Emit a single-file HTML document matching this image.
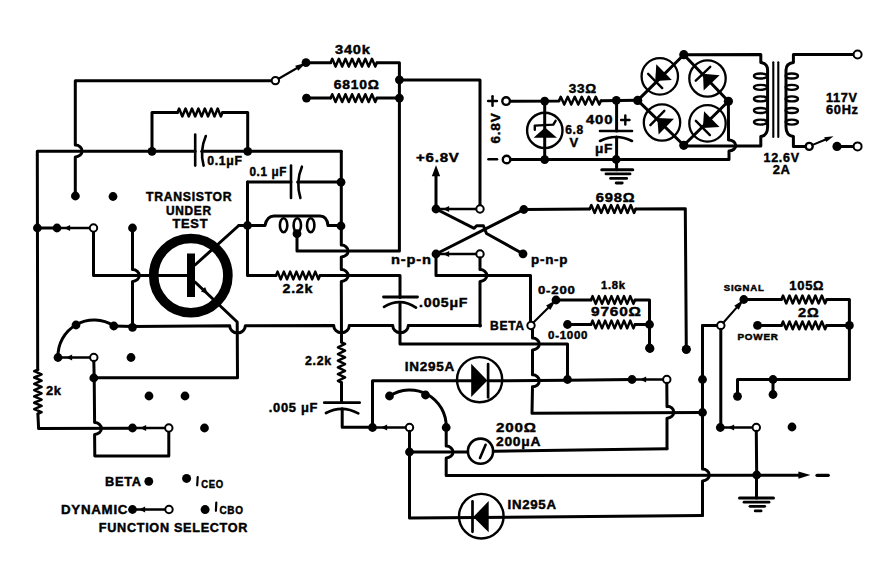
<!DOCTYPE html>
<html><head><meta charset="utf-8"><style>
html,body{margin:0;padding:0;background:#fff;}
body{width:880px;height:568px;overflow:hidden;}
svg{display:block;}
text{letter-spacing:0.7px;stroke:#000;stroke-width:0.45;stroke-linejoin:miter;font-family:"Liberation Sans",sans-serif;font-weight:bold;fill:#000;}
</style></head><body>
<svg width="880" height="568" viewBox="0 0 880 568" stroke="#000" stroke-linecap="round" stroke-linejoin="round">
<rect width="880" height="568" fill="#fff" stroke="none"/>
<path d="M271.8,80.8 L75.3,80.8 L75.3,145 A6.8,6 0 0 1 75.3,157 L75.3,196" stroke-width="3" fill="none"/>
<circle cx="275.4" cy="80.6" r="3.7" fill="#fff" stroke-width="2"/>
<path d="M278.6,78.74 L297.12,67.98" stroke-width="2.1" fill="none"/>
<path d="M298.2,70.82 L295.18,65.63 L306.2,62.7 Z" fill="#000" stroke="none"/>
<circle cx="306" cy="62.7" r="4.4" fill="#000" stroke="none"/>
<path d="M330.6,62.7 L332.25,58.8 L335.56,66.6 L338.87,58.8 L342.18,66.6 L345.48,58.8 L348.79,66.6 L352.1,58.8 L355.4,66.6 L358.71,58.8 L362.02,66.6 L365.32,58.8 L368.63,66.6 L371.94,58.8 L375.25,66.6 L376.9,62.7" stroke-width="2.5" fill="none"/>
<path d="M306,62.7 L330.6,62.7 L330.6,62.7 M376.9,62.7 L399.4,62.7 L399.4,251 L297,251 L297,233.7" stroke-width="3" fill="none"/>
<circle cx="399.4" cy="79.8" r="4.4" fill="#000" stroke="none"/>
<circle cx="399.4" cy="98.1" r="4.4" fill="#000" stroke="none"/>
<path d="M399.4,80 L480,80 L480,205.3" stroke-width="3" fill="none"/>
<circle cx="306.5" cy="98.1" r="4.4" fill="#000" stroke="none"/>
<path d="M330.6,98.1 L332.25,94.2 L335.56,102 L338.87,94.2 L342.18,102 L345.48,94.2 L348.79,102 L352.1,94.2 L355.4,102 L358.71,94.2 L362.02,102 L365.32,94.2 L368.63,102 L371.94,94.2 L375.25,102 L376.9,98.1" stroke-width="2.5" fill="none"/>
<path d="M306.5,98.1 L330.6,98.1 L330.6,98.1 M376.9,98.1 L399.4,98.1" stroke-width="3" fill="none"/>
<text x="352.85" y="54.27" font-size="13" text-anchor="middle" textLength="35.7" lengthAdjust="spacingAndGlyphs">340k</text>
<text x="356.65" y="89.07" font-size="13" text-anchor="middle" textLength="45.7" lengthAdjust="spacingAndGlyphs">6810&#937;</text>
<path d="M177.5,112.5 L179.11,108.6 L182.32,116.4 L185.54,108.6 L188.75,116.4 L191.96,108.6 L195.18,116.4 L198.39,108.6 L201.61,116.4 L204.82,108.6 L208.04,116.4 L211.25,108.6 L214.46,116.4 L217.68,108.6 L220.89,116.4 L222.5,112.5" stroke-width="2.5" fill="none"/>
<path d="M152,151 L152,112.5 L177.5,112.5 L177.5,112.5 M222.5,112.5 L247.7,112.5 L247.7,151" stroke-width="3" fill="none"/>
<path d="M37.9,369.6 L34.2,371.18 L41.6,374.34 L34.2,377.49 L41.6,380.65 L34.2,383.81 L41.6,386.96 L34.2,390.12 L41.6,393.28 L34.2,396.44 L41.6,399.59 L34.2,402.75 L41.6,405.91 L34.2,409.06 L41.6,412.22 L37.9,413.8" stroke-width="2.5" fill="none"/>
<path d="M195.2,151.2 L37.3,151.2 L37.7,369.6 L37.9,369.6 M37.9,413.8 L38.6,428.6 L132.5,428.3" stroke-width="3" fill="none"/>
<path d="M195.2,134.6 L195.2,165.6" stroke-width="2.6" fill="none"/>
<path d="M205.8,136 Q199.5,151 203.6,165.6" stroke-width="2.6" fill="none"/>
<path d="M201.8,151.3 L341,151.3 L341,151.3" stroke-width="3" fill="none"/>
<circle cx="152" cy="151.3" r="4.4" fill="#000" stroke="none"/>
<circle cx="247.7" cy="151.3" r="4.4" fill="#000" stroke="none"/>
<text x="225" y="165.07" font-size="13" text-anchor="middle" textLength="35.4" lengthAdjust="spacingAndGlyphs">0.1&#956;F</text>
<path d="M341.5,342.3 L345.1,343.98 L337.9,347.32 L345.1,350.68 L337.9,354.03 L345.1,357.38 L337.9,360.73 L345.1,364.07 L337.9,367.43 L345.1,370.77 L337.9,374.12 L345.1,377.48 L337.9,380.82 L341.5,382.5" stroke-width="2.5" fill="none"/>
<path d="M341.3,151.3 L341.3,245 A6.8,6 0 0 1 341.3,257 L341.3,269.5 A6.8,6 0 0 1 341.3,281.5 L341.5,342.3 L341.5,342.3 M341.5,382.5 L341.5,402.5" stroke-width="3" fill="none"/>
<path d="M247.5,181.9 L291,181.9" stroke-width="3" fill="none"/>
<path d="M291,165.6 L291,198" stroke-width="2.6" fill="none"/>
<path d="M301.9,166.7 Q295.5,182 300.4,198" stroke-width="2.6" fill="none"/>
<path d="M297.6,181.9 L341,181.9" stroke-width="3" fill="none"/>
<circle cx="341" cy="182.2" r="4.4" fill="#000" stroke="none"/>
<text x="268.25" y="176.47" font-size="13" text-anchor="middle" textLength="37.7" lengthAdjust="spacingAndGlyphs">0.1 &#956;F</text>
<path d="M276,275.5 L277.57,271.6 L280.71,279.4 L283.86,271.6 L287,279.4 L290.14,271.6 L293.29,279.4 L296.43,271.6 L299.57,279.4 L302.71,271.6 L305.86,279.4 L309,271.6 L312.14,279.4 L315.29,271.6 L318.43,279.4 L320,275.5" stroke-width="2.5" fill="none"/>
<path d="M247.5,181.9 L247.5,275.5 L276,275.5 L276,275.5 M320,275.5 L400,275.5 L400,297.6" stroke-width="3" fill="none"/>
<text x="297.85" y="293.27" font-size="13" text-anchor="middle" textLength="30.7" lengthAdjust="spacingAndGlyphs">2.2k</text>
<circle cx="247.5" cy="225.5" r="4.4" fill="#000" stroke="none"/>
<path d="M238.8,225.5 L265,225.5 Q267,216 274,216 L320,216 Q327,216 328,225.5 L341,225.5" stroke-width="3" fill="none"/>
<ellipse cx="283.6" cy="225.2" rx="3.7" ry="7.0" fill="none" stroke-width="2.6"/>
<ellipse cx="297.3" cy="225.2" rx="3.7" ry="7.0" fill="none" stroke-width="2.6"/>
<ellipse cx="310.7" cy="225.2" rx="3.7" ry="7.0" fill="none" stroke-width="2.6"/>
<circle cx="341" cy="226" r="4.4" fill="#000" stroke="none"/>
<circle cx="297" cy="233.7" r="4.4" fill="#000" stroke="none"/>
<path d="M247.5,225.5 L238.8,225.5 L195,265" stroke-width="3" fill="none"/>
<circle cx="190.8" cy="275.6" r="37.1" fill="none" stroke-width="9.6"/>
<rect x="187" y="253.5" width="8" height="43.5" fill="#000" stroke="none"/>
<path d="M93.5,228 L93.5,275.5 L187,275.5" stroke-width="3" fill="none"/>
<path d="M195,282 L237.2,322 L237.5,377.8 L93.8,377.8" stroke-width="3" fill="none"/>
<path d="M208,294 L200.94,291.43 L205.09,287.08 Z" fill="#000" stroke="none"/>
<path d="M132.5,228 L132.5,269.5 A6.8,6 0 0 1 132.5,281.5 L132.5,327.5" stroke-width="3" fill="none"/>
<text x="189.2" y="200.73" font-size="12" text-anchor="middle" textLength="86.4" lengthAdjust="spacingAndGlyphs">TRANSISTOR</text>
<text x="188.85" y="214.63" font-size="12" text-anchor="middle" textLength="45.7" lengthAdjust="spacingAndGlyphs">UNDER</text>
<text x="190.35" y="227.93" font-size="12" text-anchor="middle" textLength="35.7" lengthAdjust="spacingAndGlyphs">TEST</text>
<circle cx="37.4" cy="228" r="4.4" fill="#000" stroke="none"/>
<path d="M37.4,228 L57,228" stroke-width="3" fill="none"/>
<path d="M57,228 L89.8,228" stroke-width="2.3" fill="none"/>
<circle cx="57" cy="228" r="4.4" fill="#000" stroke="none"/>
<path d="M64,228 L70.15,224.93 L70.15,231.07 Z" fill="#000" stroke="none"/>
<circle cx="93.5" cy="228" r="3.7" fill="#fff" stroke-width="2"/>
<circle cx="75.4" cy="196" r="4.4" fill="#000" stroke="none"/>
<circle cx="113" cy="196.5" r="4.4" fill="#000" stroke="none"/>
<circle cx="132.5" cy="228" r="4.4" fill="#000" stroke="none"/>
<path d="M113.8,326 L132.5,326.5 L229.7,325.8 A7.8,7.2 0 0 0 245.3,325.8 L333.7,325.5 A7.8,7.2 0 0 0 349.3,325.5 L392.7,325.5 A7.8,7.2 0 0 0 408.3,325.5 L480.5,325.5" stroke-width="3" fill="none"/>
<circle cx="113.8" cy="326" r="4.4" fill="#000" stroke="none"/>
<circle cx="132.5" cy="327.3" r="4.4" fill="#000" stroke="none"/>
<path d="M58,357.5 A36,36 0 0 1 113.8,326" stroke-width="3" fill="none"/>
<circle cx="58" cy="357.5" r="4.4" fill="#000" stroke="none"/>
<circle cx="76" cy="325" r="4.4" fill="#000" stroke="none"/>
<path d="M58,357.5 L90,357.5" stroke-width="2.3" fill="none"/>
<path d="M66,357.5 L72.15,354.43 L72.15,360.57 Z" fill="#000" stroke="none"/>
<circle cx="93.8" cy="357.5" r="3.7" fill="#fff" stroke-width="2"/>
<circle cx="131" cy="357.5" r="4.4" fill="#000" stroke="none"/>
<path d="M93.8,361.2 L94.2,378 L94.6,422.5 A6.8,6 0 0 1 94.6,434.5 L94.8,456 L168.8,456 L168.8,431.7" stroke-width="3" fill="none"/>
<circle cx="93.8" cy="378" r="4.4" fill="#000" stroke="none"/>
<text x="53.85" y="395.47" font-size="13" text-anchor="middle" textLength="15.7" lengthAdjust="spacingAndGlyphs">2k</text>
<circle cx="132.5" cy="428" r="4.4" fill="#000" stroke="none"/>
<path d="M132.5,428 L165,428" stroke-width="2.3" fill="none"/>
<path d="M140,428 L146.15,424.93 L146.15,431.07 Z" fill="#000" stroke="none"/>
<circle cx="168.8" cy="428" r="3.7" fill="#fff" stroke-width="2"/>
<circle cx="149" cy="396" r="4.4" fill="#000" stroke="none"/>
<circle cx="185" cy="396" r="4.4" fill="#000" stroke="none"/>
<circle cx="204.5" cy="428" r="4.4" fill="#000" stroke="none"/>
<text x="318.35" y="365.47" font-size="13" text-anchor="middle" textLength="26.7" lengthAdjust="spacingAndGlyphs">2.2k</text>
<path d="M324.3,402.7 L359.6,402.7" stroke-width="2.8" fill="none"/>
<path d="M326,413 Q342,404.5 358.3,413.4" stroke-width="2.7" fill="none"/>
<path d="M342.2,408.8 L342.2,427.3 L372.5,427.3" stroke-width="3" fill="none"/>
<text x="293.5" y="411.97" font-size="13" text-anchor="middle" textLength="49.4" lengthAdjust="spacingAndGlyphs">.005 &#956;F</text>
<path d="M456.5,380.8 L372.5,380.8 L372.5,427.5" stroke-width="3" fill="none"/>
<path d="M372.5,427.5 L406,427.5" stroke-width="2.3" fill="none"/>
<circle cx="372.5" cy="427.5" r="4.4" fill="#000" stroke="none"/>
<path d="M381,427.5 L387.15,424.43 L387.15,430.57 Z" fill="#000" stroke="none"/>
<circle cx="409.5" cy="427.5" r="3.7" fill="#fff" stroke-width="2"/>
<path d="M389.5,396 A36.5,36.5 0 0 1 446.2,427.5" stroke-width="3" fill="none"/>
<circle cx="389.5" cy="396" r="4.4" fill="#000" stroke="none"/>
<circle cx="425.5" cy="395" r="4.4" fill="#000" stroke="none"/>
<circle cx="446.2" cy="427.5" r="4.4" fill="#000" stroke="none"/>
<path d="M409.5,431.2 L409.5,518 L702.5,515.5" stroke-width="3" fill="none"/>
<circle cx="409.5" cy="452" r="4.4" fill="#000" stroke="none"/>
<path d="M409.5,452 L467,452" stroke-width="3" fill="none"/>
<path d="M494,451.2 L667,448.8" stroke-width="3" fill="none"/>
<path d="M446.2,427.5 L446.2,446 A6.8,6 0 0 1 446.2,458 L446.2,475.6 L801,475.2" stroke-width="3" fill="none"/>
<path d="M383.5,297 L417.5,297" stroke-width="2.8" fill="none"/>
<path d="M384,306.8 Q400.5,297.3 416,307.6" stroke-width="2.7" fill="none"/>
<path d="M400,304 L400,344 L567.5,344 L567.5,379.5" stroke-width="3" fill="none"/>
<text x="443.6" y="306.97" font-size="13" text-anchor="middle" textLength="49.2" lengthAdjust="spacingAndGlyphs">.005&#956;F</text>
<text x="437.85" y="161.97" font-size="13" text-anchor="middle" textLength="43.7" lengthAdjust="spacingAndGlyphs">+6.8V</text>
<path d="M436,209 L436,172" stroke-width="3" fill="none"/>
<path d="M436,165.2 L440.2,176.2 L431.8,176.2 Z" fill="#000" stroke="none"/>
<circle cx="436" cy="209" r="4.4" fill="#000" stroke="none"/>
<path d="M436,209 L476.3,209" stroke-width="2.3" fill="none"/>
<path d="M443,209 L449.15,205.93 L449.15,212.07 Z" fill="#000" stroke="none"/>
<circle cx="480" cy="209" r="3.7" fill="#fff" stroke-width="2"/>
<circle cx="523.8" cy="209.5" r="4.4" fill="#000" stroke="none"/>
<path d="M523.8,209.5 L436,254" stroke-width="3" fill="none"/>
<path d="M436,209 L474.2,228.3 L476.6,225.8 L483.4,225.8 L486.5,233.5 L523,253.8" stroke-width="3" fill="none"/>
<circle cx="523" cy="253.8" r="4.4" fill="#000" stroke="none"/>
<circle cx="436" cy="254" r="4.4" fill="#000" stroke="none"/>
<path d="M436,254 L476.3,254" stroke-width="2.3" fill="none"/>
<path d="M443,254 L449.15,250.93 L449.15,257.07 Z" fill="#000" stroke="none"/>
<circle cx="480" cy="254" r="3.7" fill="#fff" stroke-width="2"/>
<text x="411.35" y="264.47" font-size="13" text-anchor="middle" textLength="40.7" lengthAdjust="spacingAndGlyphs">n-p-n</text>
<text x="549.6" y="263.97" font-size="13" text-anchor="middle" textLength="37.2" lengthAdjust="spacingAndGlyphs">p-n-p</text>
<path d="M480,257.7 L480,269.5 A6.8,6 0 0 1 480,281.5 L480,326" stroke-width="3" fill="none"/>
<path d="M436,254 L436,275.5 L530.5,275.5 L530.5,321.8" stroke-width="3" fill="none"/>
<path d="M589.7,209 L591.34,205.1 L594.63,212.9 L597.91,205.1 L601.2,212.9 L604.49,205.1 L607.77,212.9 L611.06,205.1 L614.34,212.9 L617.63,205.1 L620.91,212.9 L624.2,205.1 L627.49,212.9 L630.77,205.1 L634.06,212.9 L635.7,209" stroke-width="2.5" fill="none"/>
<path d="M523.8,209.5 L589.7,209.1 L589.7,209 M635.7,209 L685.3,208.7 L686.3,349" stroke-width="3" fill="none"/>
<circle cx="686.3" cy="349.3" r="4.4" fill="#000" stroke="none"/>
<text x="615.6" y="201.77" font-size="13" text-anchor="middle" textLength="39.6" lengthAdjust="spacingAndGlyphs">698&#937;</text>
<circle cx="531" cy="325.5" r="3.7" fill="#fff" stroke-width="2"/>
<text x="507.35" y="329.97" font-size="13" text-anchor="middle" textLength="34.7" lengthAdjust="spacingAndGlyphs">BETA</text>
<path d="M533.43,322.39 L548.55,307.39" stroke-width="2.1" fill="none"/>
<path d="M550.3,309.88 L546.08,305.62 L556,300 Z" fill="#000" stroke="none"/>
<circle cx="556" cy="300" r="4.4" fill="#000" stroke="none"/>
<text x="556.85" y="293.78" font-size="11" text-anchor="middle" textLength="37.7" lengthAdjust="spacingAndGlyphs">0-200</text>
<path d="M591,300 L592.57,296.1 L595.71,303.9 L598.86,296.1 L602,303.9 L605.14,296.1 L608.29,303.9 L611.43,296.1 L614.57,303.9 L617.71,296.1 L620.86,303.9 L624,296.1 L627.14,303.9 L630.29,296.1 L633.43,303.9 L635,300" stroke-width="2.5" fill="none"/>
<path d="M556,300 L591,300 L591,300 M635,300 L649.5,300 L649.5,348" stroke-width="3" fill="none"/>
<circle cx="567.5" cy="324.5" r="4.4" fill="#000" stroke="none"/>
<path d="M591,324.5 L592.57,320.6 L595.71,328.4 L598.86,320.6 L602,328.4 L605.14,320.6 L608.29,328.4 L611.43,320.6 L614.57,328.4 L617.71,320.6 L620.86,328.4 L624,320.6 L627.14,328.4 L630.29,320.6 L633.43,328.4 L635,324.5" stroke-width="2.5" fill="none"/>
<path d="M567.5,324.5 L591,324.5 L591,324.5 M635,324.5 L649.5,324.5" stroke-width="3" fill="none"/>
<circle cx="649.5" cy="324.5" r="4.4" fill="#000" stroke="none"/>
<circle cx="649.5" cy="348" r="4.4" fill="#000" stroke="none"/>
<text x="613.35" y="288.78" font-size="11" text-anchor="middle" textLength="24.7" lengthAdjust="spacingAndGlyphs">1.8k</text>
<text x="616.35" y="316.47" font-size="13" text-anchor="middle" textLength="50.7" lengthAdjust="spacingAndGlyphs">9760&#937;</text>
<text x="568.1" y="338.78" font-size="11" text-anchor="middle" textLength="40.2" lengthAdjust="spacingAndGlyphs">0-1000</text>
<path d="M532.5,329.2 L532.5,338 A6.8,6 0 0 1 532.5,350 L532.5,374.8 A6.8,6 0 0 1 532.5,386.8 L532,413.2 L702.5,412.6" stroke-width="3" fill="none"/>
<circle cx="479.6" cy="379.7" r="22.6" fill="none" stroke-width="2.4"/>
<path d="M456.5,380.8 L472,380.8" stroke-width="3" fill="none"/>
<path d="M471.2,363.8 L471.2,397 L487.4,380.5 Z" fill="#000" stroke="none"/>
<path d="M488.1,364 L488.1,397.3" stroke-width="2.7" fill="none"/>
<path d="M488,380.8 L567.5,380.2 L632,379.5" stroke-width="3" fill="none"/>
<path d="M632,379.5 L663,379.5" stroke-width="2.3" fill="none"/>
<circle cx="567.5" cy="379.5" r="4.4" fill="#000" stroke="none"/>
<circle cx="632" cy="379.5" r="4.4" fill="#000" stroke="none"/>
<path d="M640,379.5 L646.15,376.43 L646.15,382.57 Z" fill="#000" stroke="none"/>
<circle cx="666.8" cy="379.5" r="3.7" fill="#fff" stroke-width="2"/>
<text x="429.85" y="371.47" font-size="13" text-anchor="middle" textLength="50.1" lengthAdjust="spacingAndGlyphs">IN295A</text>
<circle cx="480.5" cy="451.2" r="12.6" fill="none" stroke-width="2.6"/>
<path d="M480,458 L485.6,444.8" stroke-width="2.6" fill="none"/>
<text x="516.35" y="432.47" font-size="13" text-anchor="middle" textLength="40.7" lengthAdjust="spacingAndGlyphs">200&#937;</text>
<text x="518.6" y="445.77" font-size="13" text-anchor="middle" textLength="45.2" lengthAdjust="spacingAndGlyphs">200&#956;A</text>
<circle cx="481.3" cy="516.2" r="22.3" fill="none" stroke-width="2.4"/>
<path d="M488.7,500.9 L488.7,532.3 L473.3,517.1 Z" fill="#000" stroke="none"/>
<path d="M472.5,501.4 L472.5,531.8" stroke-width="2.7" fill="none"/>
<text x="532.1" y="509.47" font-size="13" text-anchor="middle" textLength="49.2" lengthAdjust="spacingAndGlyphs">IN295A</text>
<circle cx="650" cy="348.5" r="4.4" fill="#000" stroke="none"/>
<circle cx="686.3" cy="349.3" r="4.4" fill="#000" stroke="none"/>
<path d="M666.8,383.2 L667,406.8 L667,406.2 A6.8,6 0 0 1 667,418.2 L667,448.8" stroke-width="3" fill="none"/>
<path d="M702.5,325.5 L702.5,412.5 L702.5,469 A6.8,6 0 0 1 702.5,481 L702.5,515.5" stroke-width="3" fill="none"/>
<circle cx="702.5" cy="379.5" r="4.4" fill="#000" stroke="none"/>
<circle cx="702.5" cy="412.5" r="4.4" fill="#000" stroke="none"/>
<path d="M702.5,325.5 L717,325.5" stroke-width="3" fill="none"/>
<circle cx="720.8" cy="325.5" r="3.7" fill="#fff" stroke-width="2"/>
<path d="M723.25,322.73 L736.84,307.36" stroke-width="2.1" fill="none"/>
<path d="M738.76,309.73 L734.26,305.75 L743.8,299.5 Z" fill="#000" stroke="none"/>
<circle cx="743.8" cy="299.5" r="4.4" fill="#000" stroke="none"/>
<path d="M781.4,299.5 L783.02,295.6 L786.25,303.4 L789.49,295.6 L792.73,303.4 L795.96,295.6 L799.2,303.4 L802.43,295.6 L805.67,303.4 L808.9,295.6 L812.14,303.4 L815.38,295.6 L818.61,303.4 L821.85,295.6 L825.08,303.4 L826.7,299.5" stroke-width="2.5" fill="none"/>
<path d="M743.8,299.5 L781.4,299.5 L781.4,299.5 M826.7,299.5 L849.4,299.5 L849.4,379.5 L737.5,379.5 L737.5,396.3" stroke-width="3" fill="none"/>
<circle cx="757.5" cy="325.4" r="4.4" fill="#000" stroke="none"/>
<path d="M781.4,325.4 L783.02,321.5 L786.25,329.3 L789.49,321.5 L792.73,329.3 L795.96,321.5 L799.2,329.3 L802.43,321.5 L805.67,329.3 L808.9,321.5 L812.14,329.3 L815.38,321.5 L818.61,329.3 L821.85,321.5 L825.08,329.3 L826.7,325.4" stroke-width="2.5" fill="none"/>
<path d="M757.5,325.4 L781.4,325.4 L781.4,325.4 M826.7,325.4 L849.4,325.4" stroke-width="3" fill="none"/>
<circle cx="849.4" cy="325.4" r="4.4" fill="#000" stroke="none"/>
<circle cx="773" cy="379.5" r="4.4" fill="#000" stroke="none"/>
<path d="M773,379.5 L773,394.5" stroke-width="3" fill="none"/>
<circle cx="737.5" cy="396.3" r="4.4" fill="#000" stroke="none"/>
<circle cx="773" cy="394.5" r="4.4" fill="#000" stroke="none"/>
<text x="744.15" y="290.6" font-size="9" text-anchor="middle" textLength="40.7" lengthAdjust="spacingAndGlyphs">SIGNAL</text>
<text x="806.75" y="290.47" font-size="13" text-anchor="middle" textLength="34.9" lengthAdjust="spacingAndGlyphs">105&#937;</text>
<text x="808.7" y="316.67" font-size="13" text-anchor="middle" textLength="21.4" lengthAdjust="spacingAndGlyphs">2&#937;</text>
<text x="758.1" y="340.1" font-size="9" text-anchor="middle" textLength="41.2" lengthAdjust="spacingAndGlyphs">POWER</text>
<path d="M720.8,329.2 L720.8,427.5" stroke-width="3" fill="none"/>
<path d="M720.3,427.5 L752.6,427.5" stroke-width="2.3" fill="none"/>
<circle cx="720.3" cy="427.5" r="4.4" fill="#000" stroke="none"/>
<path d="M728,427.5 L734.15,424.43 L734.15,430.57 Z" fill="#000" stroke="none"/>
<circle cx="756.3" cy="427.5" r="3.7" fill="#fff" stroke-width="2"/>
<circle cx="792" cy="427" r="4.4" fill="#000" stroke="none"/>
<path d="M756.3,431.2 L756.7,475" stroke-width="3" fill="none"/>
<circle cx="756.7" cy="475" r="4.4" fill="#000" stroke="none"/>
<path d="M810.4,475.1 L798.4,478.8 L798.4,471.4 Z" fill="#000" stroke="none"/>
<path d="M817,475.3 L828.3,475.3" stroke-width="3.2" fill="none"/>
<path d="M756.5,475 L756.5,498" stroke-width="3" fill="none"/>
<path d="M739.5,498.1 L773.5,498.1" stroke-width="3" fill="none"/>
<path d="M744,502.2 L769,502.2" stroke-width="2.8" fill="none"/>
<path d="M750,506.3 L764.7,506.3" stroke-width="2.8" fill="none"/>
<path d="M755.2,510.9 L761.1,510.9" stroke-width="2.8" fill="none"/>
<text x="123.35" y="485.77" font-size="13" text-anchor="middle" textLength="36.7" lengthAdjust="spacingAndGlyphs">BETA</text>
<circle cx="148.8" cy="481.3" r="4.4" fill="#000" stroke="none"/>
<circle cx="186.6" cy="478.4" r="4.5" fill="#000" stroke="none"/>
<path d="M197.7,477 L197.2,485.3" stroke-width="2.2" fill="none"/>
<text x="212.55" y="487.91" font-size="10.5" text-anchor="middle" textLength="22.5" lengthAdjust="spacingAndGlyphs">CEO</text>
<text x="94.6" y="513.97" font-size="13" text-anchor="middle" textLength="67.2" lengthAdjust="spacingAndGlyphs">DYNAMIC</text>
<circle cx="132.5" cy="509.5" r="4.4" fill="#000" stroke="none"/>
<path d="M132.5,509.5 L165.3,509.5" stroke-width="2.3" fill="none"/>
<path d="M139,509.5 L145.15,506.43 L145.15,512.58 Z" fill="#000" stroke="none"/>
<circle cx="169" cy="509.5" r="3.7" fill="#fff" stroke-width="2"/>
<circle cx="205.1" cy="509.6" r="4.5" fill="#000" stroke="none"/>
<path d="M216.3,502.5 L215.9,510.8" stroke-width="2.2" fill="none"/>
<text x="231.5" y="513.51" font-size="10.5" text-anchor="middle" textLength="24.2" lengthAdjust="spacingAndGlyphs">CBO</text>
<text x="173.5" y="531.97" font-size="13" text-anchor="middle" textLength="149.4" lengthAdjust="spacingAndGlyphs">FUNCTION SELECTOR</text>
<path d="M488.1,101 L496.9,101" stroke-width="2.5" fill="none"/>
<path d="M492.5,96.2 L492.5,105.8" stroke-width="2.5" fill="none"/>
<path d="M488.5,159.2 L497,159.2" stroke-width="2.6" fill="none"/>
<text transform="translate(495.2,128) rotate(-90)" x="0" y="4.64" font-size="13.5" text-anchor="middle" textLength="31" lengthAdjust="spacingAndGlyphs">6.8V</text>
<circle cx="506.1" cy="101.1" r="3.8" fill="#fff" stroke-width="2.4"/>
<circle cx="506.6" cy="159.5" r="3.8" fill="#fff" stroke-width="2.4"/>
<path d="M559,100.7 L560.75,96.8 L564.25,104.6 L567.75,96.8 L571.25,104.6 L574.75,96.8 L578.25,104.6 L581.75,96.8 L585.25,104.6 L588.75,96.8 L592.25,104.6 L595.75,96.8 L599.25,104.6 L601,100.7" stroke-width="2.5" fill="none"/>
<path d="M510.6,101.2 L559,101 L559,100.7 M601,100.7 L637.7,100.3" stroke-width="3" fill="none"/>
<circle cx="544.7" cy="101.1" r="4.4" fill="#000" stroke="none"/>
<circle cx="616.3" cy="100.3" r="4.4" fill="#000" stroke="none"/>
<text x="582.9" y="93.27" font-size="13" text-anchor="middle" textLength="28.2" lengthAdjust="spacingAndGlyphs">33&#937;</text>
<path d="M510.8,159.6 L729,159.6 L729,151 A7,5.5 0 0 0 728.5,140 L728.4,101.5" stroke-width="3" fill="none"/>
<circle cx="544.7" cy="159.6" r="4.4" fill="#000" stroke="none"/>
<circle cx="616.2" cy="159.5" r="4.4" fill="#000" stroke="none"/>
<circle cx="544.8" cy="130.4" r="17.7" fill="none" stroke-width="2.4"/>
<path d="M544.7,101.1 L544.7,159.5" stroke-width="3" fill="none"/>
<path d="M533.6,137.8 L557,137.8 L545,127.6 Z" fill="#000" stroke="none"/>
<path d="M534.8,129.8 L534.8,125.6 L553.3,124.6 L555.6,120.8" stroke-width="2.4" fill="none"/>
<text x="574.6" y="134.47" font-size="13" text-anchor="middle" textLength="18.6" lengthAdjust="spacingAndGlyphs">6.8</text>
<text x="574.3" y="147.07" font-size="13" text-anchor="middle">V</text>
<path d="M616.6,100.6 L616.6,131" stroke-width="3" fill="none"/>
<path d="M600,131 L632,131" stroke-width="2.6" fill="none"/>
<path d="M600,141 Q616,133 632,141" stroke-width="2.6" fill="none"/>
<path d="M616.6,137 L616.6,169.7" stroke-width="3" fill="none"/>
<text x="599.6" y="124.47" font-size="13" text-anchor="middle" textLength="27.2" lengthAdjust="spacingAndGlyphs">400</text>
<path d="M621.1,120 L629.5,120" stroke-width="2.4" fill="none"/>
<path d="M625.3,115.4 L625.3,124.6" stroke-width="2.4" fill="none"/>
<text x="604.1" y="153.27" font-size="13" text-anchor="middle" textLength="18.2" lengthAdjust="spacingAndGlyphs">&#956;F</text>
<path d="M601.8,169.7 L632.7,169.7" stroke-width="3.1" fill="none"/>
<path d="M606,173.9 L630,173.9" stroke-width="2.9" fill="none"/>
<path d="M610.6,178.4 L626.6,178.4" stroke-width="2.9" fill="none"/>
<path d="M616.2,183 L622.2,183" stroke-width="2.9" fill="none"/>
<path d="M637.7,100.4 L683.8,54.7 L728.4,101.3 L683.8,145.3 Z" stroke-width="3" fill="none"/>
<circle cx="637.7" cy="100.4" r="4.6" fill="#000" stroke="none"/>
<circle cx="683.8" cy="54.7" r="4.6" fill="#000" stroke="none"/>
<circle cx="728.4" cy="101.3" r="4.6" fill="#000" stroke="none"/>
<circle cx="683.8" cy="145.3" r="4.6" fill="#000" stroke="none"/>
<circle cx="659.8" cy="76.4" r="18.2" fill="none" stroke-width="2.3"/>
<path d="M656.32,64.36 L671.81,79.99 L655.18,80.98 Z" fill="#000" stroke="none"/>
<path d="M648.14,73.87 L662.22,88.08" stroke-width="2.4" fill="none"/>
<circle cx="662" cy="122.5" r="18.2" fill="none" stroke-width="2.3"/>
<path d="M673.97,118.81 L658.62,134.57 L657.34,117.96 Z" fill="#000" stroke="none"/>
<path d="M664.32,110.8 L650.37,125.13" stroke-width="2.4" fill="none"/>
<circle cx="707.5" cy="78.5" r="18.2" fill="none" stroke-width="2.3"/>
<path d="M719.6,75.23 L703.7,90.44 L703.01,73.8 Z" fill="#000" stroke="none"/>
<path d="M710.23,66.89 L695.78,80.72" stroke-width="2.4" fill="none"/>
<circle cx="707.5" cy="123.4" r="18.2" fill="none" stroke-width="2.3"/>
<path d="M704.05,111.36 L719.5,127.02 L702.87,127.96 Z" fill="#000" stroke="none"/>
<path d="M695.85,120.85 L709.9,135.08" stroke-width="2.4" fill="none"/>
<path d="M683.8,54.7 L760.8,54.5 L760.8,62.5 Q767.6,63.5 767.6,70 L767.6,127 Q767.6,135.5 760.8,136.5 L760.8,146 L683.8,146" stroke-width="3" fill="none"/>
<ellipse cx="760.5" cy="76" rx="6.6" ry="2.5" fill="none" stroke-width="2.3"/>
<ellipse cx="760.5" cy="87.3" rx="6.6" ry="2.5" fill="none" stroke-width="2.3"/>
<ellipse cx="760.5" cy="98.9" rx="6.6" ry="2.5" fill="none" stroke-width="2.3"/>
<ellipse cx="760.5" cy="110.5" rx="6.6" ry="2.5" fill="none" stroke-width="2.3"/>
<ellipse cx="760.5" cy="122.1" rx="6.6" ry="2.5" fill="none" stroke-width="2.3"/>
<path d="M773.3,62.3 L773.3,137" stroke-width="2.1" fill="none"/>
<path d="M778.3,62.3 L778.3,137" stroke-width="2.1" fill="none"/>
<path d="M853.6,54.5 L793.4,54.5 L793.4,62.5 Q786,63.5 786,70 L786,127 Q786,135.5 793.4,136.5 L793.4,146.4 L805,146.4" stroke-width="3" fill="none"/>
<ellipse cx="791.8" cy="76" rx="6.2" ry="2.5" fill="none" stroke-width="2.3"/>
<ellipse cx="791.8" cy="87.3" rx="6.2" ry="2.5" fill="none" stroke-width="2.3"/>
<ellipse cx="791.8" cy="98.9" rx="6.2" ry="2.5" fill="none" stroke-width="2.3"/>
<ellipse cx="791.8" cy="110.5" rx="6.2" ry="2.5" fill="none" stroke-width="2.3"/>
<ellipse cx="791.8" cy="122.1" rx="6.2" ry="2.5" fill="none" stroke-width="2.3"/>
<circle cx="857.6" cy="54.5" r="4" fill="#fff" stroke-width="2"/>
<circle cx="809.2" cy="146.4" r="3.5" fill="#fff" stroke-width="2.4"/>
<path d="M812.69,144.86 L825.65,139.47" stroke-width="2.1" fill="none"/>
<path d="M826.19,142.06 L824.19,137.26 L833.5,136.2 Z" fill="#000" stroke="none"/>
<circle cx="837" cy="146.4" r="4.6" fill="#000" stroke="none"/>
<path d="M837,146.4 L853.6,146.4" stroke-width="3" fill="none"/>
<circle cx="857.6" cy="146.4" r="4" fill="#fff" stroke-width="2"/>
<text x="781.65" y="162.07" font-size="13" text-anchor="middle" textLength="36.1" lengthAdjust="spacingAndGlyphs">12.6V</text>
<text x="781.7" y="174.47" font-size="13" text-anchor="middle" textLength="18" lengthAdjust="spacingAndGlyphs">2A</text>
<text x="841.85" y="102.47" font-size="13" text-anchor="middle" textLength="31.7" lengthAdjust="spacingAndGlyphs">117V</text>
<text x="842.35" y="114.47" font-size="13" text-anchor="middle" textLength="32.7" lengthAdjust="spacingAndGlyphs">60Hz</text>
</svg>
</body></html>
